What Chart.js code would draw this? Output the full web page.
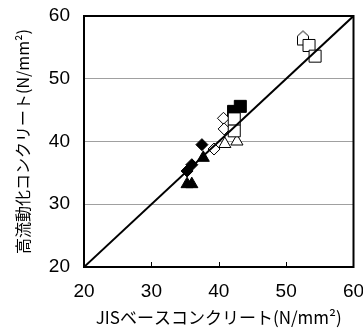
<!DOCTYPE html>
<html><head><meta charset="utf-8">
<script src="https://cdn.jsdelivr.net/npm/chart.js@4"></script>
<style>html,body{margin:0;padding:0;background:#fff}</style>
</head><body>
<canvas id="c" width="363" height="332"></canvas>
<script>
// Data (x: JIS base concrete, y: high-fluidity concrete), N/mm2
const openSquares    = [[42.3,41.7],[42.3,43.6],[53.4,55.3],[54.3,53.6]];
const filledSquares  = [[42.2,44.8],[43.2,45.6]];
const openDiamonds   = [[40.7,43.7],[40.8,42.0],[39.3,38.8]];
const filledDiamonds = [[37.5,39.5],[36.0,36.3],[35.3,35.3]];
const openTriangles  = [[40.9,39.6],[42.7,40.0]];
const filledTriangles= [[37.7,37.4],[35.3,33.2],[36.0,33.2]];
const openHouses     = [[52.5,56.5]];
const equalityLine   = [[20,20],[60,60]];
const xTicks = [20,30,40,50,60];
const yTicks = [20,30,40,50,60];
const xTitle = 'JISベースコンクリート(N/mm²)';
const yTitle = '高流動化コンクリート(N/mm²)';

const pts = a => a.map(p => ({x:p[0], y:p[1]}));

// house (pentagon) marker
const house = document.createElement('canvas');
house.width = 14; house.height = 17;
(function(){
  const g = house.getContext('2d');
  g.beginPath();
  g.moveTo(7,1.5); g.lineTo(12.5,6.5); g.lineTo(12.5,15.5); g.lineTo(1.5,15.5); g.lineTo(1.5,6.5); g.closePath();
  g.fillStyle='#fff'; g.fill(); g.strokeStyle='#000'; g.lineWidth=1; g.stroke();
})();

function sc(data, style, r, filled){
  return {type:'scatter', data:pts(data), pointStyle:style, pointRadius:r, pointHoverRadius:r,
    backgroundColor: filled ? '#000' : '#fff', borderColor:'#000', borderWidth:1, order:1};
}

const frame = {
  id:'frame',
  afterDatasetsDraw(chart){
    const {ctx, chartArea:a, scales:{x}} = chart;
    ctx.save();
    ctx.strokeStyle='#000';
    ctx.lineWidth=1;
    ctx.beginPath();
    xTicks.slice(1,-1).forEach(v=>{
      const px = Math.round(x.getPixelForValue(v))+0.5;
      ctx.moveTo(px, a.bottom); ctx.lineTo(px, a.bottom-5);
    });
    ctx.stroke();
    ctx.lineWidth=2;
    ctx.strokeRect(a.left, a.top, a.right-a.left, a.bottom-a.top);
    ctx.restore();
  }
};

const tickFont = {family:'"Liberation Sans Narrow","Liberation Sans",Arial,sans-serif', size:19};

new Chart(document.getElementById('c'), {
  data:{datasets:[
    {type:'line', data:pts(equalityLine), borderColor:'#000', borderWidth:2, pointRadius:0, fill:false, order:0},
    sc(openSquares,'rect',8.5,false),
    sc(openTriangles,'triangle',7,false),
    sc(openDiamonds,'rectRot',6,false),
    sc(filledTriangles,'triangle',7,true),
    sc(filledDiamonds,'rectRot',6,true),
    sc(filledSquares,'rect',8.5,true),
    sc(openHouses, house, 7, false)
  ]},
  options:{
    responsive:false, animation:false,
    layout:{padding:{top:16,right:6,left:0,bottom:0}},
    plugins:{legend:{display:false}, tooltip:{enabled:false}},
    scales:{
      x:{type:'linear', min:20, max:60,
        afterBuildTicks:s=>{s.ticks = xTicks.map(v=>({value:v}));},
        afterFit:s=>{s.height=65; s.paddingRight=0; s.paddingLeft=0;},
        grid:{display:false, drawTicks:false}, border:{display:false},
        ticks:{padding:13, color:'#000', maxRotation:0, autoSkip:false, font:tickFont},
        title:{display:true, text:xTitle, color:'#000', padding:{top:0,bottom:4},
          font:{family:'"Noto Sans CJK JP",sans-serif', size:17}}
      },
      y:{type:'linear', min:20, max:60,
        afterBuildTicks:s=>{s.ticks = yTicks.map(v=>({value:v}));},
        afterFit:s=>{s.width=84; s.paddingTop=0; s.paddingBottom=0;},
        grid:{color:'#a0a0a0', lineWidth:1, drawTicks:false}, border:{display:false},
        ticks:{padding:14, color:'#000', autoSkip:false, font:tickFont},
        title:{display:true, text:yTitle, color:'#000', padding:{top:13,bottom:0},
          font:{family:'"Noto Sans CJK JP",sans-serif', size:16}}
      }
    }
  },
  plugins:[frame]
});
</script>
</body></html>
